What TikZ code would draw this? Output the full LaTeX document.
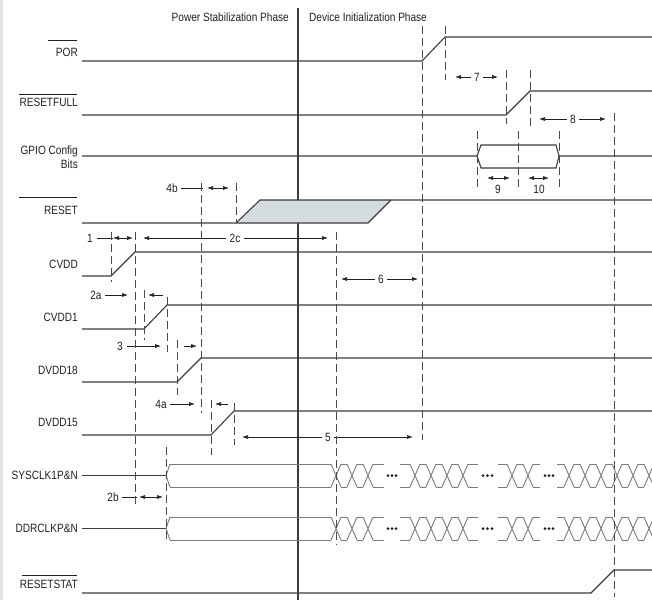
\documentclass[tikz,border=0pt]{standalone}
\usepackage{fontspec}
\setmainfont{Liberation Sans}[FakeStretch=0.84]
\usetikzlibrary{arrows.meta}
\usetikzlibrary{calc}

\definecolor{sigcol}{HTML}{3C3C3C}
\definecolor{clkcol}{HTML}{7A7A7A}
\definecolor{guidecol}{HTML}{4A4A4A}
\definecolor{txtcol}{HTML}{231F20}
\definecolor{shadecol}{HTML}{D4DCE0}
\definecolor{edgecol}{HTML}{DDE4E8}

\begin{document}
\begin{tikzpicture}[x=1pt, y=-1pt,
	sig/.style={color=sigcol, line width=1.1pt},
	clk/.style={color=clkcol, line width=0.9pt},
	guide/.style={color=guidecol, line width=0.8pt, dash pattern=on 8pt off 4pt},
	dim/.style={color=txtcol, line width=0.6pt, -{Latex[length=6pt, width=4pt]}},
	ddim/.style={color=txtcol, line width=0.6pt, {Latex[length=6pt, width=4pt]}-{Latex[length=6pt, width=4pt]}},
	lead/.style={color=txtcol, line width=0.6pt},
	signame/.style={anchor=east, inner sep=0pt, text=txtcol, font=\fontsize{12}{14}\selectfont},
	dimtag/.style={inner sep=3.5pt, fill=white, text=txtcol, font=\fontsize{12}{14}\selectfont}]

	\useasboundingbox (0,0) rectangle (652,600);
	\fill[edgecol] (0,0) rectangle (2.5,600);

	% phases
	\draw[sig] (298,8) -- (298,600);
	\node[signame] (pstab) at (289,17) {Power Stabilization Phase};
	\node[signame, anchor=west] (dinit) at (309,17) {Device Initialization Phase};

	% signal names
	\node[signame] (por) at (78,52) {POR};
	\node[signame] (rstfull) at (78,102) {RESETFULL};
	\node[signame, align=right] (gpio) at (78,157) {GPIO Config\\Bits};
	\node[signame] (rst) at (78,210) {RESET};
	\node[signame] (cvdd) at (78,264) {CVDD};
	\node[signame] (cvddone) at (78,317) {CVDD1};
	\node[signame] (dvddeight) at (78,370) {DVDD18};
	\node[signame] (dvddfive) at (78,422) {DVDD15};
	\node[signame] (sysclk) at (78,475) {SYSCLK1P\&N};
	\node[signame] (ddrclk) at (78,528) {DDRCLKP\&N};
	\node[signame] (rststat) at (78,584) {RESETSTAT};

	\draw[lead] (48,40) -- (77,40);
	\draw[lead] (19,94) -- (77,94);
	\draw[lead] (19,197) -- (77,197);
	\draw[lead] (22,575) -- (77,575);

	% waveforms
	\fill[shadecol] (236,223) -- (260,200) -- (391,200) -- (368,223) -- cycle;
	\draw[sig] (82,61) -- (422,61) -- (445,37) -- (652,37);
	\draw[sig] (82,115) -- (506,115) -- (530,91) -- (652,91);
	\draw[sig] (82,156) -- (477,156) -- (481,145) -- (556,145) -- (559,156) -- (652,156);
	\draw[sig] (477,156) -- (481,168) -- (556,168) -- (559,156);
	\draw[sig] (82,223) -- (368,223) -- (391,200);
	\draw[sig] (236,223) -- (260,200) -- (652,200);
	\draw[sig] (82,276) -- (111,276) -- (135,252) -- (652,252);
	\draw[sig] (82,329) -- (144,329) -- (167,305) -- (652,305);
	\draw[sig] (82,382) -- (177,382) -- (201,358) -- (652,358);
	\draw[sig] (82,435) -- (211,435) -- (234,411) -- (652,411);
	\draw[sig] (82,593) -- (591,593) -- (614,570) -- (652,570);

	% clocks
	\foreach \y/\z in {464/487, 517/540} {
		\pgfmathsetmacro\m{(\y+\z)/2}
		\draw[sig] (82,\m) -- (166,\m);
		\draw[clk] (166,\m) -- (170,\y) (166,\m) -- (170,\z);
		\foreach \s/\e/\f/\n in {170/384/336/3, 400/478/415/4, 498/540/512/2, 557/680/569/7} {
			\draw[clk] (\s,\y) -- (\f-5,\y) (\s,\z) -- (\f-5,\z);
			\foreach \i in {1,...,\n} {
				\pgfmathsetmacro\c{\f+16*(\i-1)}
				\pgfmathsetmacro\d{\i<\n ? \c+11 : \e}
				\draw[clk] (\c-5,\y) -- (\c+5,\z) (\c-5,\z) -- (\c+5,\y);
				\draw[clk] (\c+5,\y) -- (\d,\y) (\c+5,\z) -- (\d,\z);
			}
		}
		\foreach \x in {388,392,396,483,487.5,492,545,549,553}
			\fill[txtcol] (\x,\m) circle (1.5);
	}

	% timing marks
	\node[dimtag] (t1) at (90,238) {1};
	\draw[lead] (t1.east) -- (113,238);
	\draw[ddim] (113,238) -- (133,238);
	\draw[ddim] (143,238) -- (328,238);
	\node[dimtag] (t2c) at (235,238) {2c};
	\node[dimtag] (t2a) at (96,295) {2a};
	\draw[dim] (t2a.east) -- (128,295);
	\draw[dim] (163,295) -- (148,295);
	\node[dimtag] (t3) at (120,346) {3};
	\draw[dim] (t3.east) -- (161,346);
	\draw[dim] (184,346) -- (197,346);
	\node[dimtag] (t4a) at (161,404) {4a};
	\draw[dim] (t4a.east) -- (195,404);
	\draw[dim] (228,404) -- (215,404);
	\node[dimtag] (t4b) at (172,188) {4b};
	\draw[lead] (t4b.east) -- (203,188);
	\draw[ddim] (207,188) -- (229,188);
	\node[dimtag] (t2b) at (113,497) {2b};
	\draw[lead] (t2b.east) -- (137,497);
	\draw[ddim] (139,497) -- (163,497);
	\draw[ddim] (242,437) -- (413,437);
	\node[dimtag] (t5) at (328,437) {5};
	\draw[ddim] (341,279) -- (418,279);
	\node[dimtag] (t6) at (381,279) {6};
	\draw[ddim] (455,77) -- (498,77);
	\node[dimtag] (t7) at (477,77) {7};
	\draw[ddim] (539,119) -- (606,119);
	\node[dimtag] (t8) at (573,119) {8};
	\draw[ddim] (487,178) -- (510,178);
	\node[dimtag, fill=none] (t9) at (498,189) {9};
	\draw[ddim] (528,178) -- (549,178);
	\node[dimtag, fill=none] (t10) at (539,189) {10};

	% guides
	\foreach \x/\ya/\yb in {111/232/282, 135/232/505, 144/290/340, 167/297/352,
		177/340/395, 201/183/413, 211/400/455, 234/403/445, 166/447/543,
		236/183/223, 336/232/545, 422/26/440, 445/26/80, 506/70/124, 530/70/126,
		477/131/187, 518/131/187, 559/131/187, 614/113/597}
		\draw[guide] (\x,\ya) -- (\x,\yb);

\end{tikzpicture}
\end{document}
